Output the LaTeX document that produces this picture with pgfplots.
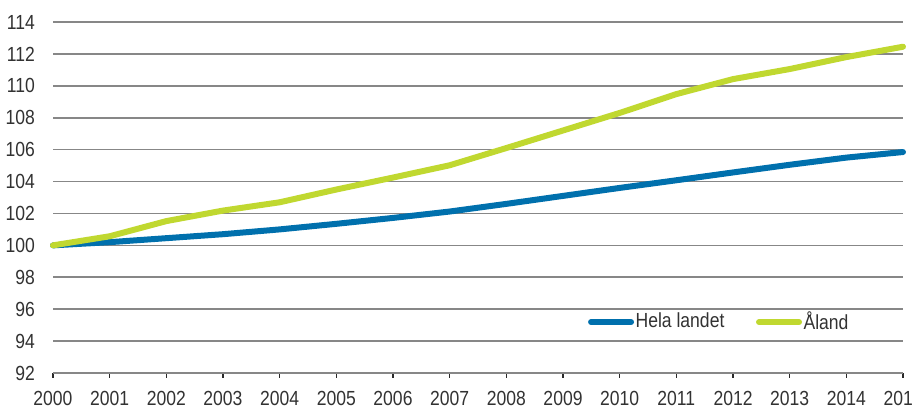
\documentclass[border=0pt]{standalone}
\usepackage{fontspec}
\setmainfont{Liberation Sans}[FakeStretch=0.86]
\usepackage{pgfplots}
\pgfplotsset{compat=1.18}

\definecolor{hela}{RGB}{0,112,173}
\definecolor{aland}{RGB}{192,216,48}
\definecolor{txt}{RGB}{50,50,50}
\definecolor{gridup}{RGB}{135,135,135}
\definecolor{griddn}{RGB}{40,40,40}

\newcommand{\chartfont}{\fontsize{10.2}{12}\selectfont}

\begin{document}
\begin{tikzpicture}
  \begin{axis}[
      scale only axis,
      width=425pt,
      height=175.5pt,
      xmin=2000, xmax=2015,
      ymin=92, ymax=114,
      xtick={2000,2001,...,2015},
      ytick={100,102,...,114},
      extra y ticks={92,94,96,98},
      extra y tick style={grid style={griddn, line width=0.7pt}},
      ymajorgrids,
      major grid style={gridup, line width=0.8pt},
      axis x line*=bottom,
      axis y line*=left,
      y axis line style={draw=none},
      x axis line style={griddn, line width=0.7pt},
      xtick pos=bottom,
      tick align=outside,
      major tick length=2.5pt,
      ytick style={draw=none},
      xtick style={griddn, line width=0.7pt},
      /pgf/number format/1000 sep={},
      /pgf/number format/assume math mode=true,
      tick label style={font=\chartfont, text=txt},
      yticklabel style={xshift=-3pt},
      xticklabel style={yshift=-3pt},
      clip=false,
      legend columns=2,
      legend cell align=left,
      legend style={at={(0.629,0.145)}, anchor=west, draw=none, fill=none,
        inner sep=0pt, font=\chartfont, text=txt,
        nodes={inner xsep=0.8pt},
        /tikz/every odd column/.append style={column sep=0pt},
        /tikz/every even column/.append style={column sep=15pt}},
      legend image code/.code={\draw[#1, line cap=round] (0pt,0pt) -- (20pt,0pt);},
      every axis plot/.append style={line width=3pt, line cap=round, line join=round},
    ]

    \addplot[hela] coordinates {
      (2000,100.00) (2001,100.20) (2002,100.45) (2003,100.70)
      (2004,101.00) (2005,101.35) (2006,101.72) (2007,102.12)
      (2008,102.60) (2009,103.10) (2010,103.60) (2011,104.08)
      (2012,104.57) (2013,105.05) (2014,105.50) (2015,105.85)
    };
    \addlegendentry{Hela landet}

    \addplot[aland] coordinates {
      (2000,100.00) (2001,100.57) (2002,101.52) (2003,102.18)
      (2004,102.70) (2005,103.50) (2006,104.25) (2007,105.02)
      (2008,106.10) (2009,107.20) (2010,108.30) (2011,109.48)
      (2012,110.42) (2013,111.05) (2014,111.80) (2015,112.45)
    };
    \addlegendentry{Åland}

    \coordinate (ll) at (rel axis cs:0,0);
  \end{axis}
  \pgfresetboundingbox
  \path[use as bounding box] ([shift={(-26.5pt,-18.5pt)}]ll) rectangle ([shift={(430pt,186.5pt)}]ll);
\end{tikzpicture}
\end{document}
